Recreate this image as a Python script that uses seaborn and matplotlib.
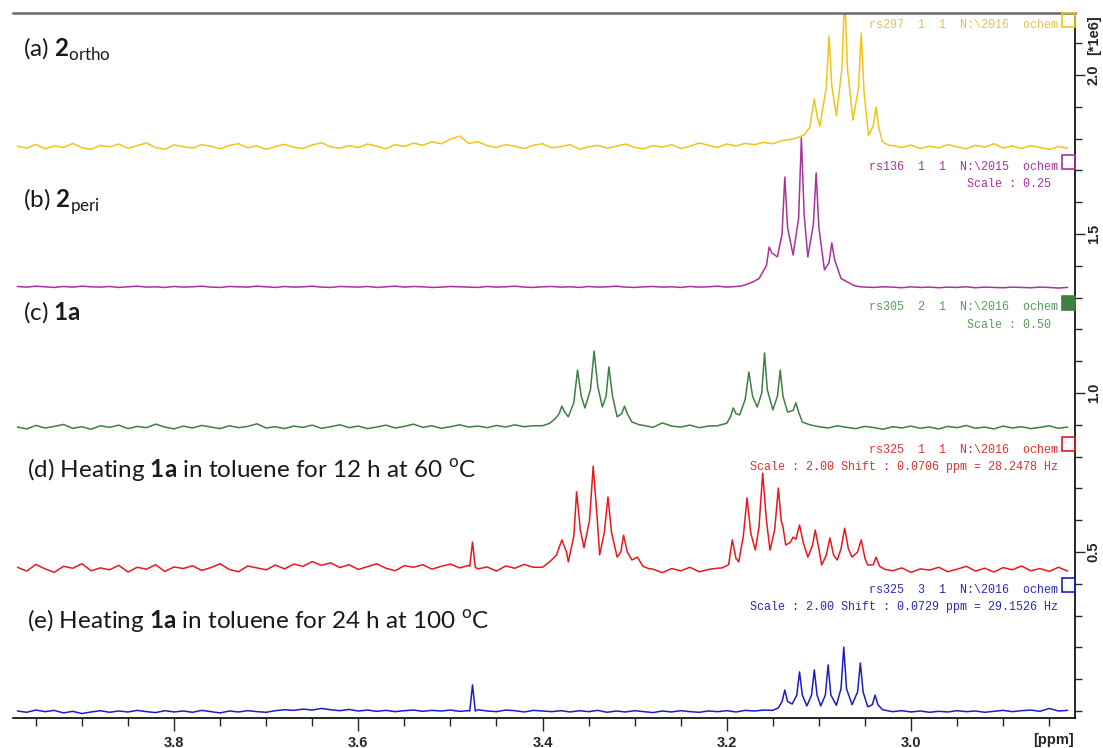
import numpy as np
import pandas as pd
import matplotlib.pyplot as plt
import seaborn as sns
from matplotlib.patches import Rectangle
from matplotlib.ticker import FixedLocator, MultipleLocator, FormatStrFormatter

sns.set_style('white')
plt.rcParams['font.family'] = ['Lato', 'DejaVu Sans']
plt.rcParams['mathtext.fontset'] = 'custom'
plt.rcParams['mathtext.rm'] = 'Lato'
plt.rcParams['mathtext.bf'] = 'Lato:bold'

W, H = 1103, 748

# baseline sampling: 3.97 ppm down to 2.83 ppm, one point per 0.01 ppm
grid = np.round(3.97 - 0.01 * np.arange(115), 2)
N = None

# (a) 2ortho
ortho_base = [1.776, 1.770, 1.782, 1.768, 1.777, 1.772, 1.785, 1.771, 1.766, 1.779,
              1.774, 1.783, 1.769, 1.778, 1.786, 1.772, 1.767, 1.780, 1.775, 1.770,
              1.781, 1.776, 1.768, 1.779, 1.784, 1.771, 1.777, 1.766, 1.775, 1.782,
              1.773, 1.769, 1.780, 1.787, 1.774, 1.770, 1.778, 1.772, 1.783, 1.776,
              1.768, 1.781, 1.775, 1.786, 1.779, 1.790, 1.784, 1.798, 1.808, 1.785,
              1.790, 1.778, 1.772, 1.781, 1.776, 1.769, 1.779, 1.784, 1.771, 1.775,
              1.781, 1.767, 1.774, 1.779, 1.770, 1.776, 1.783, 1.772, 1.768, 1.778,
              1.773, 1.781, 1.769, 1.776, 1.786, 1.779, 1.772, 1.783, 1.777, 1.785,
              1.781, 1.788, 1.784, 1.794, 1.798, 1.806, N, N, N, N,
              N, N, N, N, N, 1.778, 1.772, 1.780, 1.769, 1.776,
              1.771, 1.781, 1.774, 1.768, 1.779, 1.773, 1.784, 1.770, 1.777, 1.769,
              1.778, 1.772, 1.766, 1.775, 1.770]
ortho_pk_ppm = [3.116, 3.110, 3.108, 3.105, 3.102, 3.099, 3.092, 3.089, 3.086, 3.081,
                3.075, 3.072, 3.069, 3.063, 3.057, 3.054, 3.051, 3.046, 3.041, 3.038,
                3.035, 3.031, 3.024]
ortho_pk = [1.812, 1.835, 1.872, 1.925, 1.872, 1.838, 1.960, 2.123, 1.965, 1.872,
            2.020, 2.260, 2.020, 1.858, 1.960, 2.132, 1.945, 1.810, 1.840, 1.899,
            1.835, 1.790, 1.779]

# (b) 2peri
peri_base = [1.335, 1.333, 1.336, 1.334, 1.332, 1.335, 1.333, 1.336, 1.334, 1.333,
             1.335, 1.332, 1.334, 1.336, 1.333, 1.334, 1.332, 1.335, 1.333, 1.334,
             1.336, 1.333, 1.332, 1.335, 1.334, 1.333, 1.336, 1.334, 1.332, 1.335,
             1.333, 1.334, 1.336, 1.333, 1.332, 1.335, 1.334, 1.333, 1.335, 1.332,
             1.334, 1.336, 1.333, 1.335, 1.334, 1.332, 1.333, 1.335, 1.334, 1.333,
             1.332, 1.335, 1.333, 1.334, 1.336, 1.333, 1.332, 1.334, 1.335, 1.333,
             1.334, 1.332, 1.335, 1.333, 1.334, 1.336, 1.333, 1.332, 1.334, 1.335,
             1.333, 1.334, 1.332, 1.335, 1.333, 1.334, 1.336, 1.333, 1.335, N,
             N, N, N, N, N, N, N, N, N, N,
             N, N, 1.333, 1.332, 1.334, 1.333, 1.331, 1.334, 1.332, 1.333,
             1.331, 1.333, 1.332, 1.334, 1.331, 1.333, 1.332, 1.331, 1.333, 1.332,
             1.331, 1.333, 1.332, 1.330, 1.332]
peri_pk_ppm = [3.185, 3.178, 3.172, 3.165, 3.157, 3.154, 3.151, 3.145, 3.140, 3.137,
               3.134, 3.128, 3.122, 3.119, 3.116, 3.112, 3.106, 3.103, 3.100, 3.094,
               3.089, 3.086, 3.083, 3.076, 3.069, 3.062, 3.055]
peri_pk = [1.336, 1.342, 1.349, 1.360, 1.400, 1.459, 1.440, 1.428, 1.500, 1.679,
           1.520, 1.434, 1.550, 1.802, 1.560, 1.428, 1.530, 1.692, 1.520, 1.387,
           1.410, 1.472, 1.420, 1.360, 1.349, 1.338, 1.334]

# (c) 1a
one_a_base = [0.893, 0.887, 0.898, 0.890, 0.895, 0.901, 0.889, 0.894, 0.886, 0.897,
              0.892, 0.899, 0.888, 0.895, 0.891, 0.902, 0.893, 0.887, 0.896, 0.890,
              0.898, 0.893, 0.888, 0.897, 0.891, 0.895, 0.903, 0.890, 0.894, 0.888,
              0.896, 0.892, 0.899, 0.889, 0.894, 0.900, 0.891, 0.896, 0.888, 0.893,
              0.899, 0.890, 0.895, 0.902, 0.892, 0.897, 0.889, 0.894, 0.900, 0.893,
              0.896, 0.891, 0.898, 0.893, 0.900, 0.894, 0.897, N, N, N,
              N, N, N, N, N, N, N, N, 0.898, 0.892,
              0.906, 0.896, 0.893, 0.899, 0.891, 0.896, N, N, N, N,
              N, N, N, N, N, N, N, 0.894, 0.890, 0.897,
              0.892, 0.888, 0.895, 0.891, 0.886, 0.894, 0.890, 0.896, 0.889, 0.893,
              0.887, 0.895, 0.891, 0.898, 0.889, 0.893, 0.887, 0.896, 0.890, 0.894,
              0.888, 0.892, 0.897, 0.889, 0.893]
one_a_pk_ppm = [3.400, 3.392, 3.386, 3.382, 3.379, 3.376, 3.372, 3.366, 3.362, 3.358,
                3.354, 3.348, 3.344, 3.340, 3.335, 3.331, 3.328, 3.324, 3.319, 3.314,
                3.311, 3.308, 3.303, 3.295,
                3.210, 3.200, 3.196, 3.193, 3.190, 3.186, 3.180, 3.176, 3.172, 3.167,
                3.162, 3.159, 3.156, 3.150, 3.145, 3.142, 3.139, 3.134, 3.128, 3.125,
                3.122, 3.118, 3.110, 3.105]
one_a_pk = [0.897, 0.905, 0.920, 0.935, 0.959, 0.940, 0.925, 0.970, 1.072, 0.990,
            0.953, 1.010, 1.132, 1.020, 0.956, 0.990, 1.082, 0.990, 0.925, 0.935,
            0.959, 0.935, 0.909, 0.900,
            0.897, 0.905, 0.925, 0.953, 0.935, 0.931, 0.980, 1.066, 0.990, 0.956,
            1.000, 1.126, 1.010, 0.947, 0.990, 1.072, 0.990, 0.940, 0.945, 0.969,
            0.940, 0.909, 0.900, 0.897]

# (d) 12 h at 60 oC
h12_base = [0.452, 0.440, 0.461, 0.447, 0.436, 0.455, 0.449, 0.463, 0.441, 0.450,
            0.444, 0.458, 0.437, 0.452, 0.446, 0.460, 0.439, 0.453, 0.448, 0.457,
            0.442, 0.451, 0.463, 0.445, 0.438, 0.456, 0.450, 0.444, 0.459, 0.447,
            0.462, 0.455, 0.470, 0.458, 0.466, 0.451, 0.460, 0.445, 0.454, 0.463,
            0.449, 0.441, 0.457, 0.452, 0.460, 0.446, 0.455, 0.462, 0.450, 0.458,
            0.447, 0.453, 0.440, 0.456, 0.449, 0.461, 0.452, N, N, N,
            N, N, N, N, N, N, N, N, N, 0.446,
            0.435, 0.448, 0.441, 0.452, 0.438, 0.445, 0.449, N, N, N,
            N, N, N, N, N, N, N, N, N, N,
            N, N, N, N, N, 0.441, 0.450, 0.436, 0.447, 0.443,
            0.452, 0.438, 0.446, 0.455, 0.440, 0.449, 0.437, 0.451, 0.444, 0.456,
            0.441, 0.448, 0.439, 0.452, 0.440]
h12_pk_ppm = [3.479, 3.476, 3.473,
              3.400, 3.392, 3.385, 3.379, 3.374, 3.372, 3.366, 3.363, 3.359, 3.355,
              3.349, 3.345, 3.341, 3.338, 3.333, 3.329, 3.325, 3.319, 3.315, 3.312,
              3.308, 3.303, 3.297, 3.291, 3.285,
              3.205, 3.198, 3.194, 3.190, 3.187, 3.182, 3.178, 3.174, 3.169, 3.165,
              3.161, 3.157, 3.153, 3.148, 3.144, 3.141, 3.139, 3.136, 3.131, 3.128,
              3.125, 3.121, 3.117, 3.112, 3.107, 3.104, 3.100, 3.097, 3.092, 3.088,
              3.084, 3.080, 3.076, 3.072, 3.068, 3.064, 3.058, 3.054, 3.050, 3.047,
              3.041, 3.038, 3.034, 3.028]
h12_pk = [0.455, 0.531, 0.452,
          0.452, 0.470, 0.490, 0.538, 0.500, 0.469, 0.550, 0.689, 0.570, 0.513,
          0.600, 0.770, 0.620, 0.491, 0.560, 0.673, 0.560, 0.484, 0.500, 0.553,
          0.500, 0.475, 0.484, 0.455, 0.448,
          0.450, 0.460, 0.538, 0.480, 0.469, 0.550, 0.670, 0.560, 0.506, 0.580,
          0.748, 0.600, 0.506, 0.570, 0.701, 0.600, 0.579, 0.522, 0.530, 0.547,
          0.540, 0.585, 0.530, 0.484, 0.520, 0.569, 0.510, 0.459, 0.490, 0.544,
          0.490, 0.475, 0.510, 0.575, 0.510, 0.484, 0.500, 0.538, 0.480, 0.459,
          0.460, 0.484, 0.455, 0.445]

# (e) 24 h at 100 oC
h24_base = [0.000, -0.004, 0.003, -0.002, 0.002, -0.006, -0.001, -0.008, -0.003, 0.001,
            -0.004, 0.000, -0.003, 0.002, -0.002, -0.005, 0.001, -0.003, 0.000, -0.004,
            0.002, -0.002, -0.006, 0.000, -0.003, 0.001, -0.002, -0.004, 0.001, 0.004,
            0.002, 0.006, 0.003, 0.008, 0.004, 0.001, 0.005, 0.000, 0.003, -0.001,
            0.002, -0.002, 0.001, 0.003, -0.001, 0.002, 0.000, 0.003, -0.001, 0.001,
            0.004, 0.000, -0.002, 0.003, 0.001, -0.003, 0.002, 0.000, -0.002, 0.001,
            -0.003, 0.001, -0.002, 0.002, -0.004, 0.000, -0.003, 0.001, -0.002, -0.005,
            0.000, -0.003, 0.001, -0.002, -0.004, 0.000, -0.002, 0.001, -0.003, 0.002,
            0.000, 0.003, N, N, N, N, N, N, N, N,
            N, N, N, N, N, -0.002, 0.001, -0.003, 0.000, -0.004,
            -0.001, -0.003, 0.001, -0.002, 0.000, -0.004, -0.001, 0.002, -0.002, 0.001,
            0.003, -0.001, 0.008, 0.000, 0.002]
h24_pk_ppm = [3.479, 3.476, 3.473,
              3.150, 3.144, 3.140, 3.137, 3.134, 3.129, 3.124, 3.121, 3.118, 3.113,
              3.108, 3.105, 3.102, 3.098, 3.093, 3.090, 3.087, 3.081, 3.076, 3.073,
              3.070, 3.064, 3.058, 3.055, 3.052, 3.047, 3.042, 3.039, 3.036, 3.031,
              3.024]
h24_pk = [0.000, 0.082, 0.000,
          0.002, 0.010, 0.030, 0.066, 0.030, 0.022, 0.050, 0.123, 0.050, 0.016,
          0.050, 0.129, 0.050, 0.016, 0.050, 0.145, 0.050, 0.018, 0.070, 0.201,
          0.070, 0.020, 0.060, 0.151, 0.060, 0.013, 0.020, 0.050, 0.020, 0.004,
          0.000]

samples = ['a', 'b', 'c', 'd', 'e']
colors = {'a': '#f2c41a', 'b': '#a8339c', 'c': '#3f7f42', 'd': '#e8181c', 'e': '#1c1cc8'}
text_colors = {'a': '#e6c250', 'b': '#a8339c', 'c': '#5a9a5e', 'd': '#e03030', 'e': '#2a2ab8'}

traces = {'a': (ortho_base, ortho_pk_ppm, ortho_pk),
          'b': (peri_base, peri_pk_ppm, peri_pk),
          'c': (one_a_base, one_a_pk_ppm, one_a_pk),
          'd': (h12_base, h12_pk_ppm, h12_pk),
          'e': (h24_base, h24_pk_ppm, h24_pk)}

frames = []
for s in samples:
    base, pk_ppm, pk = traces[s]
    b = pd.DataFrame({'ppm': grid, 'intensity': pd.array(base, dtype='Float64')}).dropna()
    p = pd.DataFrame({'ppm': pk_ppm, 'intensity': pk})
    d = pd.concat([b, p]).astype(float).sort_values('ppm')
    d['sample'] = s
    frames.append(d)
spectra = pd.concat(frames, ignore_index=True)

fig = plt.figure(figsize=(W / 100, H / 100), dpi=100)
ax = fig.add_axes([13 / W, 1 - 718 / H, (1075 - 13) / W, (718 - 13) / H])

sns.lineplot(data=spectra, x='ppm', y='intensity', hue='sample', palette=colors,
             estimator=None, legend=False, linewidth=1.1, ax=ax)

ax.set_xlim(3.9748, 2.822)
ax.set_ylim(-0.022, 2.195)
ax.set_xlabel('')
ax.set_ylabel('')

ax.xaxis.set_major_locator(FixedLocator([3.8, 3.6, 3.4, 3.2, 3.0]))
ax.xaxis.set_minor_locator(MultipleLocator(0.05))
ax.xaxis.set_major_formatter(FormatStrFormatter('%.1f'))
ax.yaxis.tick_right()
ax.yaxis.set_major_locator(FixedLocator([0.5, 1.0, 1.5, 2.0]))
ax.yaxis.set_minor_locator(MultipleLocator(0.1))
ax.yaxis.set_major_formatter(FormatStrFormatter('%.1f'))

tick_font = {'family': 'Liberation Sans', 'weight': 'bold', 'size': 10.5}
ax.tick_params(axis='x', which='major', direction='out', length=9, width=1, pad=4, bottom=True)
ax.tick_params(axis='x', which='minor', direction='out', length=6, width=1, bottom=True)
ax.tick_params(axis='y', which='major', direction='out', length=7, width=1, pad=1.5, right=True, left=False)
ax.tick_params(axis='y', which='minor', direction='out', length=5, width=1, right=True, left=False)
for lab in ax.get_xticklabels():
    lab.set(**tick_font)
for lab in ax.get_yticklabels():
    lab.set(**tick_font)
    lab.set_rotation(90)
    lab.set_va('center')

ax.spines['left'].set_visible(False)
ax.spines['top'].set_color('#6a6a6a')
ax.spines['top'].set_linewidth(1.8)
for side in ['right', 'bottom']:
    ax.spines[side].set_color('black')
    ax.spines[side].set_linewidth(1.2)

fig.text(1094 / W, 1 - 35 / H, '[*1e6]', rotation=90, ha='center', va='center',
         fontfamily='Liberation Sans', fontweight='bold', fontsize=10.5)
fig.text(1053 / W, 1 - 740 / H, '[ppm]', ha='center', va='center',
         fontfamily='Liberation Sans', fontweight='bold', fontsize=10.5)

# sample labels on the left
labels = [(r'(a) $\mathbf{2}_{\mathrm{ortho}}$', 23, 57),
          (r'(b) $\mathbf{2}_{\mathrm{peri}}$', 23, 208),
          (r'(c) $\mathbf{1a}$', 23, 320),
          (r'(d) Heating $\mathbf{1a}$ in toluene for 12 h at 60 $^{\mathrm{o}}$C', 27, 477),
          (r'(e) Heating $\mathbf{1a}$ in toluene for 24 h at 100 $^{\mathrm{o}}$C', 27, 628)]
for txt, px, py in labels:
    fig.text(px / W, 1 - py / H, txt, ha='left', va='baseline', fontsize=17.5, color='#1a1a1a')

# acquisition notes on the right
notes = [('rs297  1  1  N:\\2016  ochem', 25, 'a', 1058),
         ('rs136  1  1  N:\\2015  ochem', 167, 'b', 1058),
         ('Scale : 0.25', 184, 'b', 1051),
         ('rs305  2  1  N:\\2016  ochem', 307, 'c', 1058),
         ('Scale : 0.50', 325, 'c', 1051),
         ('rs325  1  1  N:\\2016  ochem', 450, 'd', 1058),
         ('Scale : 2.00 Shift : 0.0706 ppm = 28.2478 Hz', 467, 'd', 1058),
         ('rs325  3  1  N:\\2016  ochem', 590, 'e', 1058),
         ('Scale : 2.00 Shift : 0.0729 ppm = 29.1526 Hz', 607, 'e', 1058)]
for txt, py, s, px in notes:
    fig.text(px / W, 1 - py / H, txt, ha='right', va='center', fontsize=8.4,
             fontfamily='Liberation Mono', color=text_colors[s])

boxes = [(13, 'a', False), (155, 'b', False), (296, 'c', True), (437, 'd', False), (578, 'e', False)]
for top, s, filled in boxes:
    fig.patches.append(Rectangle((1062 / W, 1 - (top + 14) / H), 13 / W, 14 / H,
                                 transform=fig.transFigure, fill=filled,
                                 facecolor=colors[s], edgecolor=colors[s], linewidth=1.2))

fig.savefig('out.png', dpi=100)
